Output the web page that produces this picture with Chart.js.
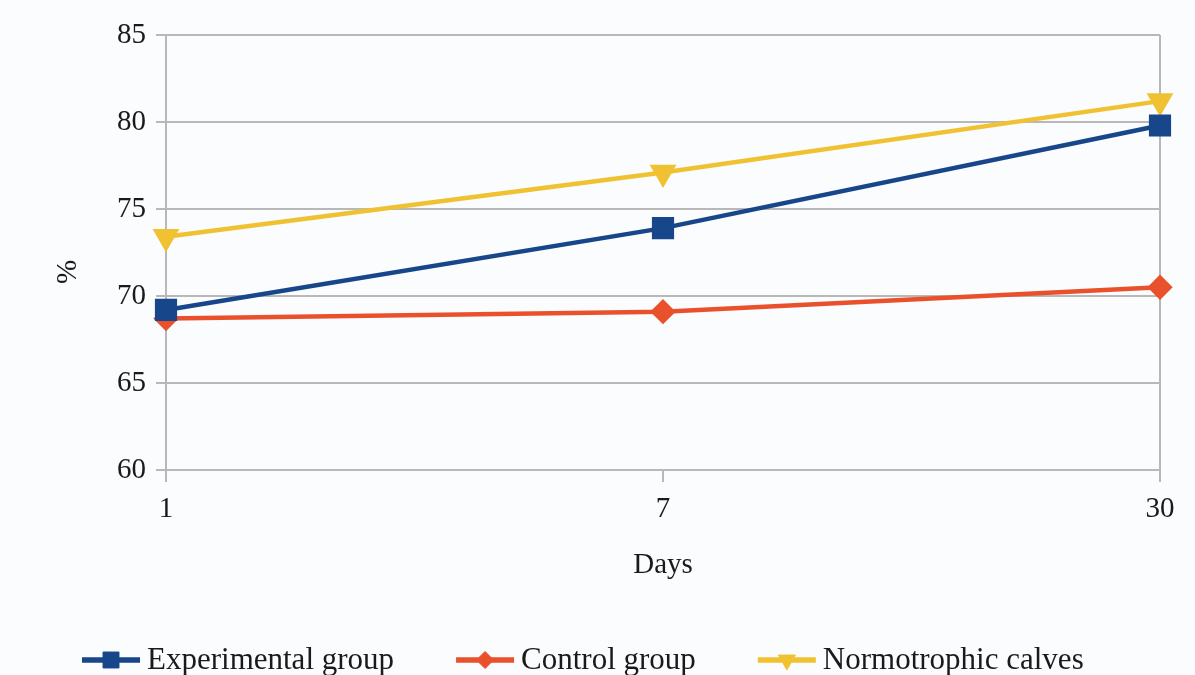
<!DOCTYPE html>
<html>
<head>
<meta charset="utf-8">
<script src="https://cdn.jsdelivr.net/npm/chart.js@4/dist/chart.umd.min.js"></script>
<style>
  html, body { margin: 0; padding: 0; background: #fbfcfd; }
  #wrap { width: 1195px; height: 675px; }
</style>
</head>
<body>
<div id="wrap"><canvas id="c" width="1195" height="675"></canvas></div>
<script>
// Measurement days and group means (%)
const days = ['1', '7', '30'];
const experimental = [69.2, 73.9, 79.8];
const control = [68.7, 69.1, 70.5];
const normotrophic = [73.4, 77.1, 81.2];
const yTicks = [60, 65, 70, 75, 80, 85];

const SERIF = "'Liberation Serif', 'DejaVu Serif', serif";
const GRID = '#b8b8b8';
const TEXT = '#1a1a1a';

// Legend below the plot: a short line with the series marker, then the label
const bottomLegend = {
  id: 'bottomLegend',
  afterDraw(chart, args, opts) {
    const ctx = chart.ctx;
    const font = `${opts.fontSize}px ${SERIF}`;
    ctx.save();
    ctx.font = font;
    let x = opts.left;
    const y = opts.y;
    chart.data.datasets.forEach(ds => {
      ctx.strokeStyle = ds.borderColor;
      ctx.lineWidth = opts.lineWidth;
      ctx.beginPath();
      ctx.moveTo(x, y);
      ctx.lineTo(x + opts.lineLen, y);
      ctx.stroke();
      ctx.fillStyle = ds.pointBackgroundColor;
      ctx.strokeStyle = ds.pointBorderColor;
      ctx.lineWidth = 1;
      Chart.helpers.drawPoint(ctx, {
        pointStyle: ds.pointStyle,
        rotation: ds.pointRotation || 0,
        radius: ds.pointRadius * opts.markerScale,
        borderWidth: 1
      }, x + opts.lineLen / 2, y);
      x += opts.lineLen + opts.gap;
      ctx.fillStyle = TEXT;
      ctx.textBaseline = 'middle';
      ctx.textAlign = 'left';
      ctx.fillText(ds.label, x, y + 1);
      x += ctx.measureText(ds.label).width + opts.itemGap;
    });
    ctx.restore();
  }
};

// Rotated y-axis caption
const yCaption = {
  id: 'yCaption',
  afterDraw(chart, args, opts) {
    const ctx = chart.ctx;
    ctx.save();
    ctx.translate(opts.x, opts.y);
    ctx.rotate(-Math.PI / 2);
    ctx.font = `${opts.fontSize}px ${SERIF}`;
    ctx.fillStyle = TEXT;
    ctx.textAlign = 'center';
    ctx.textBaseline = 'middle';
    ctx.fillText(opts.text, 0, 0);
    ctx.restore();
  }
};

new Chart(document.getElementById('c'), {
  type: 'line',
  data: {
    labels: days,
    datasets: [
      {
        label: 'Experimental group',
        data: experimental,
        borderColor: '#17468a',
        backgroundColor: '#17468a',
        pointBackgroundColor: '#17468a',
        pointBorderColor: '#17468a',
        borderWidth: 4.5,
        pointStyle: 'rect',
        pointRadius: 12.5,
        tension: 0
      },
      {
        label: 'Control group',
        data: control,
        borderColor: '#e9512c',
        backgroundColor: '#e9512c',
        pointBackgroundColor: '#e9512c',
        pointBorderColor: '#e9512c',
        borderWidth: 4.5,
        pointStyle: 'rectRot',
        pointRadius: 9.5,
        tension: 0
      },
      {
        label: 'Normotrophic calves',
        data: normotrophic,
        borderColor: '#f0c232',
        backgroundColor: '#f0c232',
        pointBackgroundColor: '#f0c232',
        pointBorderColor: '#f0c232',
        borderWidth: 4.5,
        pointStyle: 'triangle',
        pointRotation: 180,
        pointRadius: 11,
        tension: 0
      }
    ]
  },
  options: {
    responsive: false,
    animation: false,
    layout: { padding: { top: 35, right: 35, bottom: 92, left: 0 } },
    plugins: {
      legend: { display: false },
      tooltip: { enabled: false },
      bottomLegend: { left: 82, y: 660, lineLen: 58, gap: 7, itemGap: 62, fontSize: 31, lineWidth: 5.5, markerScale: 0.9 },
      yCaption: { text: '%', x: 68, y: 272, fontSize: 29 }
    },
    scales: {
      x: {
        type: 'category',
        offset: false,
        afterFit(scale) { scale.height = 113; },
        grid: {
          drawOnChartArea: true,
          color: ctx => (ctx.index === 1 ? 'rgba(0,0,0,0)' : GRID),
          tickColor: GRID,
          lineWidth: 2,
          tickLength: 12
        },
        border: { display: false },
        ticks: {
          color: TEXT,
          font: { family: SERIF, size: 29 },
          padding: 10,
          maxRotation: 0
        },
        title: {
          display: true,
          text: 'Days',
          color: TEXT,
          font: { family: SERIF, size: 29 },
          padding: { top: 0, bottom: 0 }
        }
      },
      y: {
        min: 60,
        max: 85,
        afterFit(scale) { scale.width = 166; },
        afterBuildTicks(scale) { scale.ticks = yTicks.map(v => ({ value: v })); },
        grid: {
          color: GRID,
          lineWidth: 2,
          tickLength: 10
        },
        border: { display: false },
        ticks: {
          color: TEXT,
          font: { family: SERIF, size: 29 },
          padding: 10
        }
      }
    }
  },
  plugins: [bottomLegend, yCaption]
});
</script>
</body>
</html>
